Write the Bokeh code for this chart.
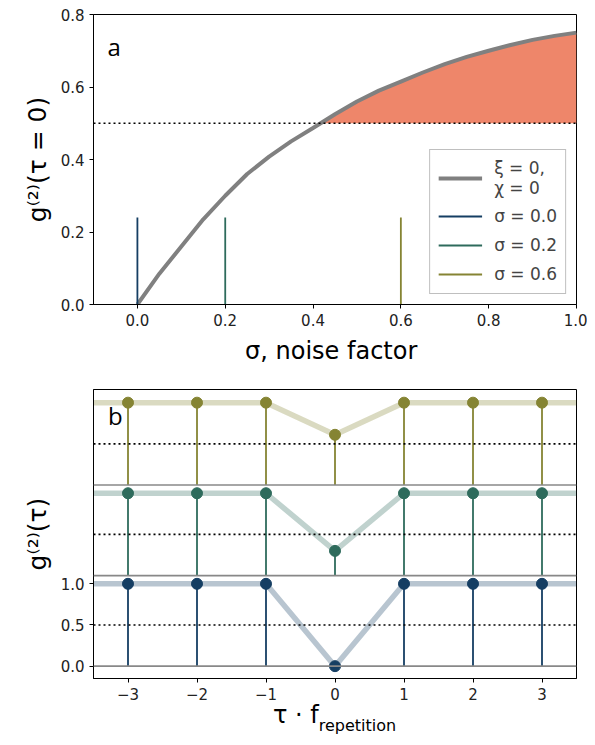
import numpy as np
from bokeh.plotting import figure
from bokeh.layouts import column
from bokeh.models import Range1d, Span, Label, Legend, LegendItem, FixedTicker, Div
from bokeh.embed import file_html
from bokeh.resources import INLINE

# ---------------- data: panel a ----------------
sigma = [0.0, 0.05, 0.10, 0.15, 0.20, 0.25, 0.30, 0.35, 0.40, 0.45, 0.50,
         0.55, 0.60, 0.65, 0.70, 0.75, 0.80, 0.85, 0.90, 0.95, 1.00]
g2_zero = [0.0, 0.085, 0.160, 0.235, 0.300, 0.360, 0.408, 0.450, 0.487, 0.525, 0.560,
           0.590, 0.615, 0.640, 0.663, 0.683, 0.700, 0.716, 0.730, 0.741, 0.750]
threshold = 0.5
sigma_marks = [0.0, 0.2, 0.6]
mark_height = 0.24
mark_labels = ["σ = 0.0", "σ = 0.2", "σ = 0.6"]
mark_colors = ["#153e63", "#2e6b5c", "#858433"]
x_ticks_a = [0.0, 0.2, 0.4, 0.6, 0.8, 1.0]
y_ticks_a = [0.0, 0.2, 0.4, 0.6, 0.8]

# ---------------- data: panel b ----------------
tau = [-3, -2, -1, 0, 1, 2, 3]
g2_tau = [
    [1.0, 1.0, 1.0, 0.00, 1.0, 1.0, 1.0],   # sigma = 0.0
    [1.0, 1.0, 1.0, 0.30, 1.0, 1.0, 1.0],   # sigma = 0.2
    [1.0, 1.0, 1.0, 0.61, 1.0, 1.0, 1.0],   # sigma = 0.6
]
offsets = [0.0, 1.1, 2.2]
tau_edges = [-3.5, 3.5]
edge_value = 1.0
x_ticks_b = [-3, -2, -1, 0, 1, 2, 3]
y_ticks_b = [0.0, 0.5, 1.0]

FONT = "DejaVu Sans"
TICK_SIZE = "15px"
LABEL_SIZE = "24px"


def style(p):
    p.xgrid.visible = False
    p.ygrid.visible = False
    p.outline_line_color = "black"
    p.outline_line_width = 1
    p.outline_line_alpha = 1
    for ax in (p.xaxis[0], p.yaxis[0]):
        ax.major_label_text_font = FONT
        ax.major_label_text_font_size = TICK_SIZE
        ax.major_label_text_color = "#222222"
        ax.axis_label_text_font = FONT
        ax.axis_label_text_font_size = LABEL_SIZE
        ax.axis_label_text_font_style = "normal"
        ax.axis_label_text_color = "black"
        ax.minor_tick_line_color = None
        ax.major_tick_in = 0
        ax.major_tick_out = 4
        ax.axis_line_color = "black"
        ax.major_tick_line_color = "black"


# ---------------- panel a ----------------
p1 = figure(width=587, height=378, output_backend="svg", toolbar_location=None,
            x_range=Range1d(-0.1, 1.0), y_range=Range1d(0.0, 0.8),
            min_border_left=93, min_border_right=11, min_border_top=14, min_border_bottom=74)
style(p1)

sig = np.array(sigma)
g2 = np.array(g2_zero)
x_cross = float(np.interp(threshold, g2, sig))
mask = g2 > threshold
fill_x = [x_cross] + list(sig[mask])
fill_y = [threshold] + list(g2[mask])
p1.varea(x=fill_x, y1=threshold, y2=fill_y, fill_color="#ee866a", fill_alpha=1.0)

p1.add_layout(Span(location=threshold, dimension="width", line_color="black",
                   line_width=1.6, line_dash="2 3"))

curve = p1.line(sigma, g2_zero, line_color="#808080", line_width=4)

mark_renderers = []
for s, c in zip(sigma_marks, mark_colors):
    r = p1.segment(x0=[s], y0=[0.0], x1=[s], y1=[mark_height], line_color=c, line_width=1.8)
    mark_renderers.append(r)

legend = Legend(items=[LegendItem(label="ξ = 0,\nχ = 0", renderers=[curve])] +
                [LegendItem(label=l, renderers=[r]) for l, r in zip(mark_labels, mark_renderers)],
                location="bottom_right")
legend.label_text_font = "DejaVu Sans"
legend.label_text_font_size = "17px"
legend.border_line_color = "#808080"
legend.border_line_width = 1.5
legend.background_fill_alpha = 0.9
legend.glyph_width = 44
legend.glyph_height = 22
legend.label_height = 22
legend.spacing = 7
legend.padding = 8
legend.margin = 10
legend.label_standoff = 12
p1.add_layout(legend)

p1.xaxis[0].ticker = FixedTicker(ticks=x_ticks_a)
p1.yaxis[0].ticker = FixedTicker(ticks=y_ticks_a)
p1.xaxis[0].major_label_overrides = {t: f"{t:.1f}" for t in x_ticks_a}
p1.yaxis[0].major_label_overrides = {t: f"{t:.1f}" for t in y_ticks_a}
p1.xaxis[0].axis_label = "σ,  noise factor"
p1.yaxis[0].axis_label = "g⁽²⁾(τ = 0)"
p1.xaxis[0].axis_label_standoff = 8
p1.yaxis[0].axis_label_standoff = 6
p1.yaxis[0].axis_label_text_font_size = "25px"

p1.add_layout(Label(x=-0.068, y=0.713, text="a", text_font="Open Sans",
                    text_font_size="24px", text_baseline="middle", text_color="black"))

# ---------------- panel b ----------------
p2 = figure(width=587, height=328, output_backend="svg", toolbar_location=None,
            x_range=Range1d(-3.5, 3.5), y_range=Range1d(-0.15, 3.36),
            min_border_left=93, min_border_right=11, min_border_top=11, min_border_bottom=28)
style(p2)

for off in offsets:
    p2.add_layout(Span(location=off, dimension="width", line_color="#888888", line_width=1.6))
    p2.add_layout(Span(location=off + 0.5, dimension="width", line_color="black",
                       line_width=1.6, line_dash="2 3"))

for vals, off, c in zip(g2_tau, offsets, mark_colors):
    lx = [tau_edges[0]] + tau + [tau_edges[1]]
    ly = [off + edge_value] + [off + v for v in vals] + [off + edge_value]
    p2.line(lx, ly, line_color=c, line_alpha=0.3, line_width=5.5)
    p2.segment(x0=tau, y0=[off] * len(tau), x1=tau, y1=[off + v for v in vals],
               line_color=c, line_width=1.8)
    p2.scatter(tau, [off + v for v in vals], size=11, fill_color=c, line_color=c)

p2.xaxis[0].ticker = FixedTicker(ticks=x_ticks_b)
p2.yaxis[0].ticker = FixedTicker(ticks=y_ticks_b)
p2.xaxis[0].major_label_overrides = {t: (f"−{abs(t)}" if t < 0 else f"{t}") for t in x_ticks_b}
p2.yaxis[0].major_label_overrides = {t: f"{t:.1f}" for t in y_ticks_b}
p2.yaxis[0].axis_label = "g⁽²⁾(τ)"
p2.yaxis[0].axis_label_standoff = 6
p2.yaxis[0].axis_label_text_font_size = "25px"

p2.add_layout(Label(x=-3.29, y=3.05, text="b", text_font="Open Sans",
                    text_font_size="24px", text_baseline="middle", text_color="black"))

# x-axis label of panel b (main text with subscript), centred under the frame
xlabel_b = Div(
    text=('<span style="font-size:24px">τ&nbsp;·&nbsp;f</span>'
          '<span style="font-size:16px; position:relative; top:8px">repetition</span>'),
    width=483, height=34, margin=(-5, 0, 0, 93),
    styles={"text-align": "center", "font-family": "DejaVu Sans", "line-height": "28px",
            "color": "black", "display": "block"},
)

layout = column(p1, p2, xlabel_b, spacing=0)
open("out.html", "w").write(file_html(layout, INLINE))
